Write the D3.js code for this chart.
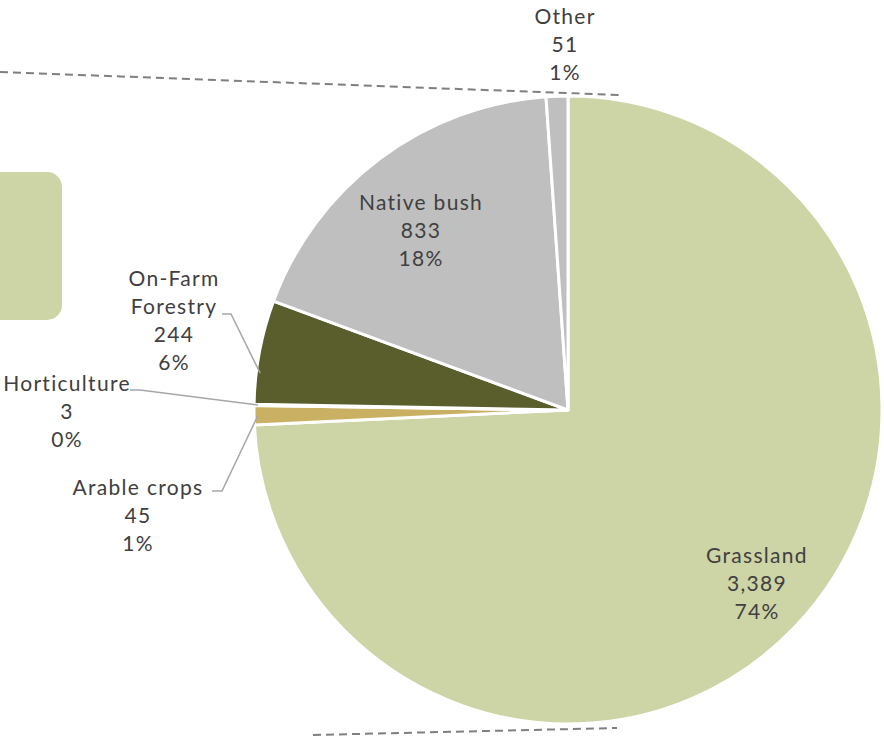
<!DOCTYPE html>
<html>
<head>
<meta charset="utf-8">
<script src="https://cdn.jsdelivr.net/npm/d3@7"></script>
<style>
  html, body { margin: 0; padding: 0; background: #ffffff; }
  svg { display: block; }
  text { font-family: "Lato", "Open Sans", "DejaVu Sans", sans-serif; fill: #404040; font-size: 21px; letter-spacing: 1.3px; }
</style>
</head>
<body>
<svg id="chart" width="884" height="736"></svg>
<script>
// Land use breakdown (hectares)
const categories = ["Grassland", "Arable crops", "Horticulture", "On-Farm Forestry", "Native bush", "Other"];
const values = [3389, 45, 3, 244, 833, 51];
const valueLabels = ["3,389", "45", "3", "244", "833", "51"];
const percentLabels = ["74%", "1%", "0%", "6%", "18%", "1%"];
const colors = ["#CDD4A6", "#C9B063", "#8E8A55", "#5A5E2D", "#BFBFBF", "#BFBFBF"];

const svg = d3.select("#chart");
const cx = 568, cy = 410, R = 314;

// connector lines to the neighbouring panel
const dash = svg.append("g")
  .attr("stroke", "#7F7F7F").attr("stroke-width", 2)
  .attr("stroke-dasharray", "8,5").attr("fill", "none");
dash.append("line").attr("x1", 0).attr("y1", 72).attr("x2", 620).attr("y2", 95);
dash.append("line").attr("x1", 313).attr("y1", 735).attr("x2", 617).attr("y2", 728);

// edge of the neighbouring panel's bar
svg.append("rect")
  .attr("x", -30).attr("y", 172).attr("width", 92).attr("height", 148)
  .attr("rx", 15).attr("ry", 15)
  .attr("fill", "#CDD4A6");

const data = categories.map((c, i) => ({ name: c, value: values[i], vl: valueLabels[i], pl: percentLabels[i], color: colors[i] }));

const pie = d3.pie().value(d => d.value).sort(null).startAngle(0).endAngle(2 * Math.PI);
const arc = d3.arc().innerRadius(0).outerRadius(R);
const arcs = pie(data);

const g = svg.append("g").attr("transform", `translate(${cx},${cy})`);
g.selectAll("path").data(arcs).join("path")
  .attr("d", arc)
  .attr("fill", d => d.data.color)
  .attr("stroke", "#ffffff")
  .attr("stroke-width", 3)
  .attr("stroke-linejoin", "round");

// label anchor points (centre x, first baseline y)
const labelPos = {
  "Grassland":        { x: 757, y: 563, lines: [d => d.name, d => d.vl, d => d.pl] },
  "Arable crops":     { x: 138, y: 495, lines: [d => d.name, d => d.vl, d => d.pl] },
  "Horticulture":     { x: 67,  y: 391, lines: [d => d.name, d => d.vl, d => d.pl] },
  "On-Farm Forestry": { x: 174, y: 286, lines: [() => "On-Farm", () => "Forestry", d => d.vl, d => d.pl] },
  "Native bush":      { x: 421, y: 210, lines: [d => d.name, d => d.vl, d => d.pl] },
  "Other":            { x: 565, y: 24,  lines: [d => d.name, d => d.vl, d => d.pl] }
};
const lineH = 28;

const labels = svg.append("g");
arcs.forEach(a => {
  const p = labelPos[a.data.name];
  const t = labels.append("text").attr("text-anchor", "middle");
  p.lines.forEach((fn, i) => {
    t.append("tspan").attr("x", p.x).attr("y", p.y + i * lineH).text(fn(a.data));
  });
});

// leader lines from outside labels to their slices
function edgePoint(a, frac) {
  const ang = a.startAngle + (a.endAngle - a.startAngle) * frac;
  return [cx + (R - 4) * Math.sin(ang), cy - (R - 4) * Math.cos(ang)];
}
const leaders = [
  { name: "On-Farm Forestry", pts: [[222, 314], [231, 314]], frac: 0.3 },
  { name: "Horticulture",     pts: [[130, 390], [140, 390]], frac: 0.5 },
  { name: "Arable crops",     pts: [[212, 491], [222, 491]], frac: 0.5 }
];
leaders.forEach(l => {
  const a = arcs.find(d => d.data.name === l.name);
  const pts = l.pts.concat([edgePoint(a, l.frac)]);
  svg.append("path")
    .attr("d", d3.line()(pts))
    .attr("fill", "none")
    .attr("stroke", "#A6A6A6")
    .attr("stroke-width", 1.5);
});
</script>
</body>
</html>
